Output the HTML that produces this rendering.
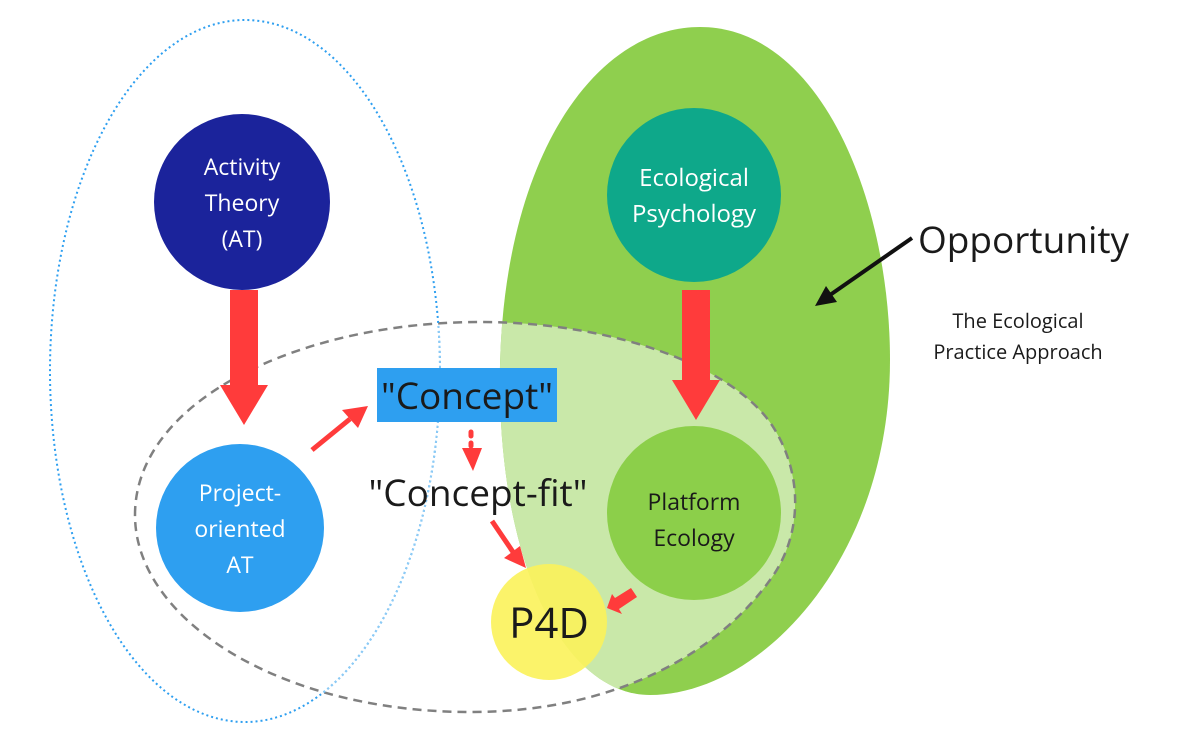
<!DOCTYPE html>
<html><head><meta charset="utf-8"><style>
html,body{margin:0;padding:0;background:#fff;}
svg{display:block;font-family:"Open Sans","Liberation Sans",sans-serif;}
</style></head><body>
<svg width="1181" height="750" viewBox="0 0 1181 750" xmlns="http://www.w3.org/2000/svg">
<defs>
<clipPath id="dc"><path d="M135,515 C135,400 300,322 480,322 C620,322 740,370 775,430 C805,480 800,540 770,580 C720,650 620,712 470,712 C280,712 135,620 135,515 Z"/></clipPath>
</defs>
<path d="M700,27 C820,27 890,200 890,360 C890,560 760,695 650,695 C570,695 505,580 500,400 C495,170 590,27 700,27 Z" fill="#8fcf4e"/>
<path d="M700,27 C820,27 890,200 890,360 C890,560 760,695 650,695 C570,695 505,580 500,400 C495,170 590,27 700,27 Z" fill="#c9e8a9" clip-path="url(#dc)"/>
<path d="M135,515 C135,400 300,322 480,322 C620,322 740,370 775,430 C805,480 800,540 770,580 C720,650 620,712 470,712 C280,712 135,620 135,515 Z" fill="none" stroke="#808080" stroke-width="2.5" stroke-dasharray="9,6"/>
<ellipse cx="245" cy="371" rx="195" ry="351" fill="none" stroke="#2e9ff0" stroke-width="2" stroke-dasharray="2,3"/>
<ellipse cx="245" cy="371" rx="195" ry="351" fill="none" stroke="#8ecbf5" stroke-width="2" stroke-dasharray="2,3" clip-path="url(#dc)"/>
<circle cx="242" cy="202" r="88" fill="#1b239b"/>
<circle cx="694" cy="195" r="87" fill="#0ea88a"/>
<circle cx="240" cy="528" r="84" fill="#2e9ff0"/>
<circle cx="694" cy="513" r="87" fill="#8ccf4a"/>
<polygon points="230,290 258,290 258,385 268,385 244,425 220,385 230,385" fill="#ff3b3b"/>
<polygon points="682,290 710,290 710,380 720,380 696,420 672,380 682,380" fill="#ff3b3b"/>
<line x1="312" y1="450" x2="350" y2="419" stroke="#ff3b3b" stroke-width="5"/>
<polygon points="368,406 358,428 342,410" fill="#ff3b3b"/>
<line x1="471" y1="432" x2="471" y2="436" stroke="#ff3b3b" stroke-width="5" stroke-linecap="round"/>
<line x1="471" y1="443" x2="471" y2="446" stroke="#ff3b3b" stroke-width="5" stroke-linecap="round"/>
<polygon points="462,448 482,448 473,471" fill="#ff3b3b"/>
<line x1="492" y1="521" x2="513" y2="552" stroke="#ff3b3b" stroke-width="5"/>
<polygon points="526,568 504,558 520,546" fill="#ff3b3b"/>
<polygon points="631,588 637,597 619,609 622,614 607,608 612,594 615,598" fill="#ff3b3b"/>
<circle cx="549" cy="622" r="58" fill="#fbf25a" fill-opacity="0.9"/>
<line x1="912" y1="238" x2="830" y2="295" stroke="#111" stroke-width="4"/>
<polygon points="815,306 826,286 837,302" fill="#111"/>
<rect x="377" y="368" width="180" height="54" fill="#2e9ff0"/>
<g text-anchor="middle">
<text x="242" y="175" font-size="23" fill="#fff">Activity</text>
<text x="242" y="211" font-size="23" fill="#fff">Theory</text>
<text x="242" y="247" font-size="23" fill="#fff">(AT)</text>
<text x="694" y="186" font-size="24" fill="#fff">Ecological</text>
<text x="694" y="222" font-size="24" fill="#fff">Psychology</text>
<text x="240" y="501" font-size="23" fill="#fff">Project-</text>
<text x="240" y="537" font-size="23" fill="#fff">oriented</text>
<text x="240" y="573" font-size="23" fill="#fff">AT</text>
<text x="694" y="510" font-size="23" fill="#1a1a1a">Platform</text>
<text x="694" y="546" font-size="23" fill="#1a1a1a">Ecology</text>
<text x="467" y="409" font-size="37" fill="#1a1a1a">"Concept"</text>
<text x="478" y="506" font-size="37" fill="#1a1a1a">"Concept-fit"</text>
<text x="549" y="638" font-size="42" fill="#1a1a1a">P4D</text>
<text x="1018" y="328" font-size="20" fill="#1a1a1a">The Ecological</text>
<text x="1018" y="359" font-size="20" fill="#1a1a1a">Practice Approach</text>
</g>
<text x="918" y="253" font-size="37" fill="#1a1a1a">Opportunity</text>
</svg>
</body></html>
